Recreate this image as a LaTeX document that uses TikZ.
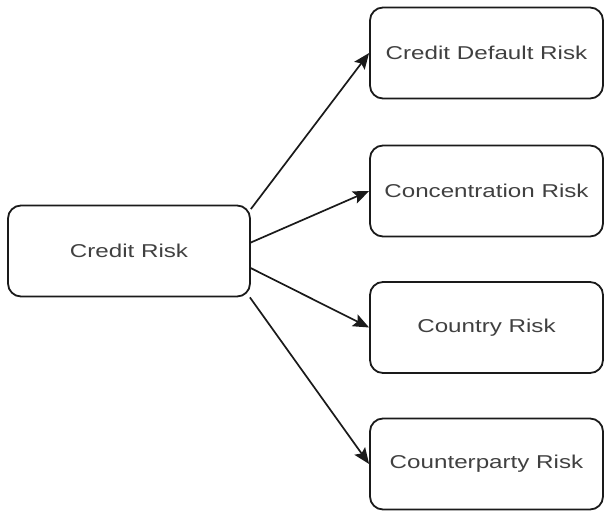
\documentclass[tikz,border=0pt]{standalone}
\usepackage{fontspec}
\setmainfont[FakeStretch=1.3]{Liberation Sans}
\usetikzlibrary{arrows.meta}
\definecolor{txt}{HTML}{404040}
\definecolor{ln}{HTML}{1A1A1A}
\begin{document}
\begin{tikzpicture}[x=1pt,y=-1pt,
  box/.style={draw=ln, line width=1.8pt, rounded corners=13pt, text=txt,
    font=\fontsize{18.6}{21}\selectfont, minimum height=91pt, inner sep=0pt},
  leftbox/.style={box, minimum width=242pt},
  rightbox/.style={box, minimum width=233pt},
  conn/.style={draw=ln, line width=1.7pt, -{Stealth[length=16pt,width=13pt,inset=3pt]}}]
\useasboundingbox (0,0) rectangle (606,512);
\node[leftbox] (cr) at (129,251) {Credit Risk};
\node[rightbox] (r1) at (486.5,53) {Credit Default Risk};
\node[rightbox] (r2) at (486.5,191) {Concentration Risk};
\node[rightbox] (r3) at (486.5,327.5) {Country Risk};
\node[rightbox] (r4) at (486.5,464) {Counterparty Risk};
\draw[conn] (cr.19) -- (r1.west);
\draw[conn] (cr.4) -- (r2.west);
\draw[conn] (cr.-8) -- (r3.west);
\draw[conn] (cr.-21) -- (r4.west);
\end{tikzpicture}
\end{document}
